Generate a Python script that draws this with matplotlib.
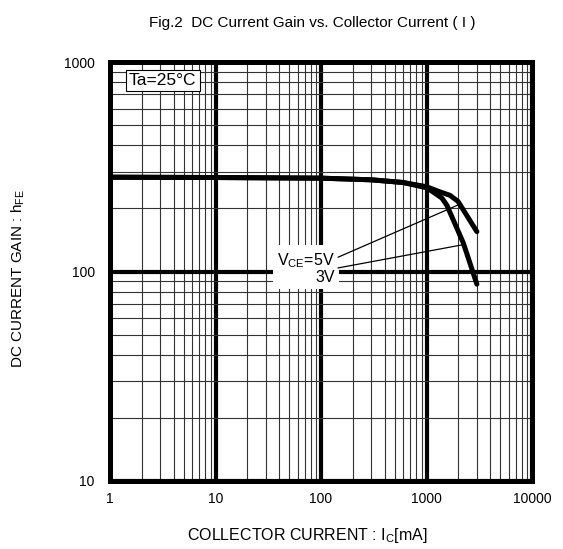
import matplotlib
matplotlib.use("Agg")
import matplotlib.pyplot as plt
from matplotlib.ticker import LogLocator, FixedLocator, NullFormatter

plt.rcParams.update({
    "font.family": ["Liberation Sans", "DejaVu Sans"],
    "mathtext.fontset": "custom",
    "mathtext.rm": "Liberation Sans",
    "mathtext.it": "Liberation Sans",
})

# data (Ic in mA, hFE)
ic_5v = [1, 10, 100, 300, 600, 1000, 1340, 1670, 1990, 3000]
hfe_5v = [282, 281, 279, 274, 266, 254, 240, 231, 216, 155]
ic_3v = [1, 10, 100, 300, 600, 1000, 1150, 1400, 1560, 2230, 3000]
hfe_3v = [282, 281, 279, 274, 266, 251, 240, 224, 207, 137, 87]

x_ticks = [1, 10, 100, 1000, 10000]
x_tick_labels = ["1", "10", "100", "1000", "10000"]
y_ticks = [10, 100, 1000]
y_tick_labels = ["10", "100", "1000"]

fig = plt.figure(figsize=(5.63, 5.49), dpi=100)
ax = fig.add_axes([0.1954, 0.1239, 0.7496, 0.7631])

ax.set_xscale("log")
ax.set_yscale("log")
ax.set_xlim(1, 10000)
ax.set_ylim(10, 1000)

ax.xaxis.set_major_locator(FixedLocator(x_ticks))
ax.yaxis.set_major_locator(FixedLocator(y_ticks))
ax.set_xticklabels(x_tick_labels)
ax.set_yticklabels(y_tick_labels)
ax.xaxis.set_minor_locator(LogLocator(base=10, subs=range(2, 10)))
ax.yaxis.set_minor_locator(LogLocator(base=10, subs=range(2, 10)))
ax.xaxis.set_minor_formatter(NullFormatter())
ax.yaxis.set_minor_formatter(NullFormatter())
ax.tick_params(which="both", length=0, labelsize=10, colors="black")
ax.tick_params(axis="x", pad=8)
ax.tick_params(axis="y", pad=11)

ax.set_axisbelow(True)
ax.grid(which="major", color="black", linewidth=3.0)
ax.grid(which="minor", color="0.2", linewidth=0.8)
for s in ax.spines.values():
    s.set_linewidth(3.6)

ax.plot(ic_5v, hfe_5v, color="black", lw=3.6, solid_capstyle="round", zorder=4)
ax.plot(ic_3v, hfe_3v, color="black", lw=3.6, solid_capstyle="round", zorder=4)

# label box with leader lines
ax.text(136, 104, "V$_{\\rm CE}$=5V\n3V", ha="right", va="center",
        fontsize=11.5, linespacing=1.0, multialignment="right",
        bbox=dict(facecolor="white", edgecolor="none", pad=3), zorder=6)
ax.annotate("", xy=(2000, 208), xytext=(145, 117),
            arrowprops=dict(arrowstyle="-", color="black", lw=0.9,
                            shrinkA=0, shrinkB=0), zorder=7)
ax.annotate("", xy=(2170, 134), xytext=(145, 104),
            arrowprops=dict(arrowstyle="-", color="black", lw=0.9,
                            shrinkA=0, shrinkB=0), zorder=7)

ax.text(1.51, 816, "Ta=25\u00b0C", ha="left", va="center", fontsize=12.5,
        bbox=dict(facecolor="white", edgecolor="black", lw=0.8, pad=2.2), zorder=6)

ax.set_xlabel("COLLECTOR CURRENT : I$_{\\rm C}$[mA]", fontsize=11.5)
ax.set_ylabel("DC CURRENT GAIN : h$_{\\rm FE}$", fontsize=11)
ax.xaxis.set_label_coords(0.468, -0.108)
ax.yaxis.set_label_coords(-0.197, 0.482)
fig.text(0.554, 0.959, "Fig.2  DC Current Gain vs. Collector Current ( I )",
         ha="center", va="center", fontsize=11)

fig.savefig("out.png", dpi=100)
